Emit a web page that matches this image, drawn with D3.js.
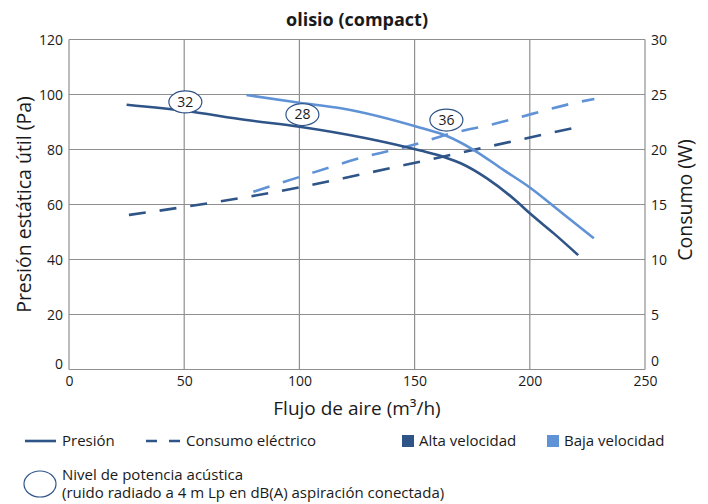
<!DOCTYPE html>
<html><head><meta charset="utf-8">
<script src="https://cdn.jsdelivr.net/npm/d3@7"></script>
<style>body{margin:0;background:#fff}svg{display:block}text{font-family:"Open Sans",Lato,sans-serif;fill:#1a1a1a}</style>
</head><body><svg id="c" width="708" height="504"></svg>
<script>
const title = "olisio (compact)";
const xTicks = [0, 50, 100, 150, 200, 250];
const yTicks = [0, 20, 40, 60, 80, 100, 120];
const y2Ticks = [0, 5, 10, 15, 20, 25, 30];
// Presión (Pa) vs flujo (m3/h)
const presAlta = [[25,96.3],[50,94.1],[77,90.7],[100,88.3],[129,84.1],[152.5,79.6],[163,77.2],[170,75],[181.4,69.5],[194.5,61],[200,56.8],[210.4,49.5],[221,41.6]];
const presBaja = [[77,99.8],[100,97],[118,95],[152.5,87.9],[164,84.9],[175.7,79.8],[188.7,72.5],[200,66.2],[213.3,57.4],[227.8,47.7]];
// Consumo (W) vs flujo
const consAlta = [[26,14.05],[57,15.0],[100,16.55],[126,17.7],[152.5,18.9],[184,20.35],[222,22.1]];
const consBaja = [[80,16.15],[100,17.5],[126,19.2],[152.5,20.6],[163,21.3],[184,22.3],[222,24.35],[228,24.6]];
// Nivel de potencia acústica labels [flujo, presión, dB]
const noise = [[50.5,97.3,"32"],[101.3,92.7,"28"],[163.8,90.7,"36"]];
const legendSeries = ["Presión","Consumo eléctrico"];
const legendSpeeds = ["Alta velocidad","Baja velocidad"];
const legendNoise = ["Nivel de potencia acústica","(ruido radiado a 4 m Lp en dB(A) aspiración conectada)"];

const dark = "#2f5488", light = "#6092d6", grid = "#8f8f8f";
const svg = d3.select("#c");
const L = 69, R = 645, T = 39.5, B = 369.5;
const x = d3.scaleLinear().domain([0,250]).range([L,R]);
const y = d3.scaleLinear().domain([0,120]).range([B,T]);
const y2 = d3.scaleLinear().domain([0,30]).range([B,T]);

// grid
svg.append("g").selectAll("line").data(yTicks).join("line")
  .attr("x1",L).attr("x2",R).attr("y1",d=>y(d)).attr("y2",d=>y(d))
  .attr("stroke",grid).attr("stroke-width",1.2);
svg.append("g").selectAll("line").data(xTicks).join("line")
  .attr("x1",d=>x(d)).attr("x2",d=>x(d)).attr("y1",T).attr("y2",B)
  .attr("stroke",grid).attr("stroke-width",1.2);

// axes labels
const ax = svg.append("g").attr("transform",`translate(0,${B})`)
  .call(d3.axisBottom(x).tickValues(xTicks).tickSize(0).tickPadding(7));
const ayl = svg.append("g").attr("transform",`translate(${L},0)`)
  .call(d3.axisLeft(y).tickValues(yTicks).tickSize(0).tickPadding(6));
const ayr = svg.append("g").attr("transform",`translate(${R},0)`)
  .call(d3.axisRight(y2).tickValues(y2Ticks).tickSize(0).tickPadding(6));
[ax,ayl,ayr].forEach(g=>{g.select(".domain").remove();
  g.selectAll("text").style("font-size","14px").style("font-family","'Open Sans',sans-serif").attr("fill","#1a1a1a");});
ax.selectAll("text").attr("dy","0.68em");
ayl.selectAll("text").attr("dy",d=>d===0?"-0.06em":"0.34em");
ayr.selectAll("text").attr("dy",d=>d===0?"-0.3em":"0.34em");

// lines
const lineP = d3.line().curve(d3.curveMonotoneX).x(d=>x(d[0])).y(d=>y(d[1]));
const lineW = d3.line().curve(d3.curveMonotoneX).x(d=>x(d[0])).y(d=>y2(d[1]));
svg.append("path").attr("d",lineW(consAlta))
  .attr("fill","none").attr("stroke",dark).attr("stroke-width",2.6).attr("stroke-dasharray","17,14");
svg.append("path").attr("d",lineW(consBaja))
  .attr("fill","none").attr("stroke",light).attr("stroke-width",2.6).attr("stroke-dasharray","17,14");
svg.append("path").attr("d",lineP(presAlta))
  .attr("fill","none").attr("stroke",dark).attr("stroke-width",2.6);
svg.append("path").attr("d",lineP(presBaja))
  .attr("fill","none").attr("stroke",light).attr("stroke-width",2.6);

// noise ellipses
const ng = svg.append("g").selectAll("g").data(noise).join("g")
  .attr("transform",d=>`translate(${x(d[0])},${y(d[1])})`);
ng.append("ellipse").attr("rx",16.5).attr("ry",11).attr("fill","#fff").attr("stroke",dark).attr("stroke-width",1.2);
ng.append("text").attr("text-anchor","middle").attr("dy","0.35em").style("font-size","14px").text(d=>d[2]);

// titles
svg.append("text").attr("x",357).attr("y",26).attr("text-anchor","middle")
  .style("font-size","18px").style("font-weight","bold").text(title);
svg.append("text").attr("transform",`translate(31,${(T+B)/2}) rotate(-90)`).attr("text-anchor","middle")
  .style("font-size","19.5px").text("Presión estática útil (Pa)");
svg.append("text").attr("transform",`translate(692,200) rotate(-90)`).attr("text-anchor","middle")
  .style("font-size","19.5px").text("Consumo (W)");
svg.append("text").attr("x",357).attr("y",415).attr("text-anchor","middle")
  .style("font-size","19px").text("Flujo de aire (m³/h)");

// legend
const ly = 441;
svg.append("line").attr("x1",25).attr("x2",56).attr("y1",ly).attr("y2",ly).attr("stroke",dark).attr("stroke-width",2.6);
svg.append("text").attr("x",62).attr("y",ly).attr("dy","0.35em").style("font-size","15px").text(legendSeries[0]);
svg.append("line").attr("x1",146).attr("x2",180).attr("y1",ly).attr("y2",ly).attr("stroke",dark).attr("stroke-width",2.6).attr("stroke-dasharray","11,12");
svg.append("text").attr("x",186).attr("y",ly).attr("dy","0.35em").style("font-size","15px").text(legendSeries[1]);
[[dark,402,legendSpeeds[0]],[light,547,legendSpeeds[1]]].forEach(([c,lx,t])=>{
  svg.append("rect").attr("x",lx).attr("y",ly-6).attr("width",12).attr("height",12).attr("fill",c);
  svg.append("text").attr("x",lx+17).attr("y",ly).attr("dy","0.35em").style("font-size","15px").text(t);
});
svg.append("ellipse").attr("cx",40).attr("cy",484).attr("rx",16).attr("ry",13).attr("fill","#fff").attr("stroke",dark).attr("stroke-width",1.2);
svg.append("text").attr("x",62).attr("y",475).attr("dy","0.35em").style("font-size","15px").text(legendNoise[0]);
svg.append("text").attr("x",62).attr("y",493).attr("dy","0.35em").style("font-size","15px").text(legendNoise[1]);
</script></body></html>
